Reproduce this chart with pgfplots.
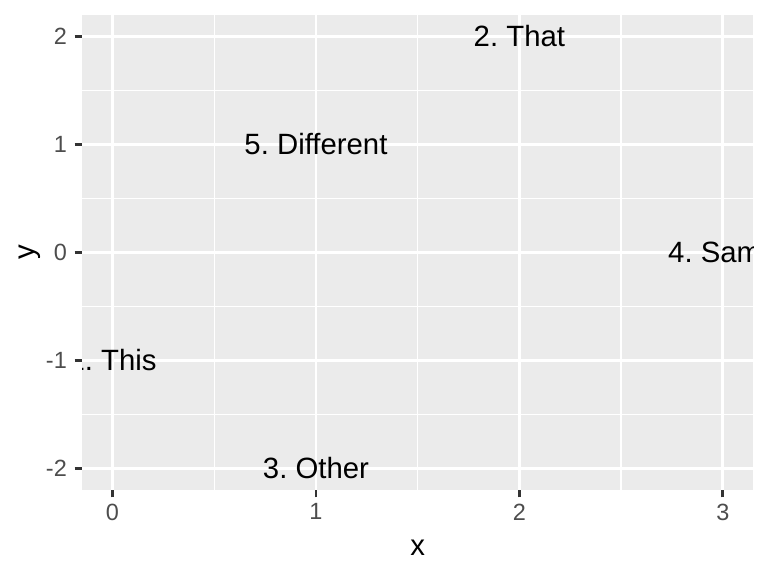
\documentclass[border=0pt]{standalone}
\usepackage{fontspec}
\setmainfont{Liberation Sans}
\usepackage{pgfplots}
\pgfplotsset{compat=1.18}
\definecolor{panelbg}{HTML}{EBEBEB}
\definecolor{gray20}{HTML}{333333}
\definecolor{gray30}{HTML}{4D4D4D}
\frenchspacing

\begin{document}
\begin{tikzpicture}
\useasboundingbox (-30.75pt,-32.25pt) rectangle (257.25pt,183.75pt);
\begin{axis}[
  scale only axis, width=251.75pt, height=178.25pt,
  at={(0,0)}, anchor=south west,
  xmin=-0.15, xmax=3.15, ymin=-2.2, ymax=2.2,
  axis line style={draw=none},
  axis background/.style={fill=panelbg},
  xtick={0,1,2,3}, ytick={-2,-1,0,1,2},
  minor xtick={0.5,1.5,2.5}, minor ytick={-1.5,-0.5,0.5,1.5},
  grid=both,
  major grid style={white, line width=1.07pt},
  minor grid style={white, line width=0.53pt},
  tick pos=left, tick align=outside,
  major tick length=2.75pt, minor tick length=0pt,
  tick style={gray20, line width=1.07pt},
  tick label style={font=\fontsize{8.8}{10}\selectfont, text=gray30},
  xticklabel style={yshift=1.1pt},
  yticklabel style={xshift=0.6pt},
  /pgf/number format/assume math mode=true,
  xlabel={x}, ylabel={y},
  label style={font=\fontsize{11}{13}\selectfont},
  xlabel style={at={(axis description cs:0.5,0)}, anchor=center, yshift=-21.75pt},
  ylabel style={at={(axis description cs:0,0.5)}, anchor=center, yshift=19.5pt},
  clip marker paths=true,
]
\addplot[only marks, mark=*, mark size=0pt, mark options={draw=none, fill=none},
  point meta=explicit symbolic, nodes near coords,
  nodes near coords align=center,
  every node near coord/.append style={font=\fontsize{11}{13}\selectfont,
    text=black, anchor=base, inner sep=0pt, yshift=-3.95pt}]
coordinates {
  (0,-1) [1. This]
  (2,2) [2. That]
  (1,-2) [3. Other]
  (3,0) [4. Same]
  (1,1) [5. Different]
};
\end{axis}
\end{tikzpicture}
\end{document}
